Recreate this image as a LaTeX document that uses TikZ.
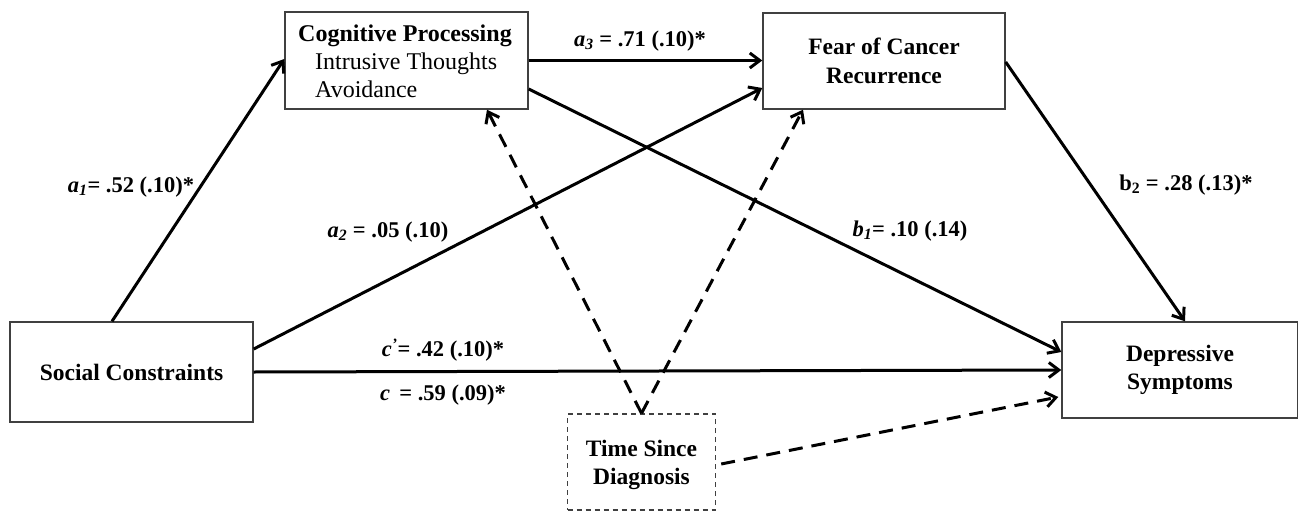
\documentclass[tikz,border=0pt]{standalone}
\usepackage{fontspec}
\setmainfont{Liberation Serif}
\usetikzlibrary{arrows.meta}
\tikzset{
  box/.style={draw=black!75, line width=1.4pt, rectangle, inner sep=0pt, align=center,
    font=\fontsize{23.5}{28.5}\selectfont\bfseries},
  dbox/.style={box, dashed, dash pattern=on 5pt off 4pt},
  path/.style={line width=3pt, -{Straight Barb[length=10pt,width=15pt,line width=3pt]}},
  dpath/.style={path, dash pattern=on 14pt off 9pt},
  lab/.style={font=\fontsize{22.5}{25}\selectfont\bfseries, inner sep=0pt}
}
\newcommand{\ital}[1]{\textit{#1}}
\begin{document}
\begin{tikzpicture}[x=1pt,y=-1pt]
\useasboundingbox (0,0) rectangle (1298,511);
\node[box, minimum width=243pt, minimum height=97pt] (cog) at (406.5,60.5) {};
\node[anchor=north west, inner sep=0pt, align=left, font=\fontsize{24}{28}\selectfont] (cogtxt) at (298,25)
  {\textbf{Cognitive Processing}\\\hspace*{17pt}Intrusive Thoughts\\\hspace*{17pt}Avoidance};
\node[box, minimum width=242pt, minimum height=96pt] (fear) at (884,61) {Fear of Cancer\\Recurrence};
\node[box, minimum width=243pt, minimum height=100pt] (soc) at (131.5,372) {Social Constraints};
\node[box, minimum width=236pt, minimum height=96pt] (dep) at (1180,370) {Depressive\\Symptoms};
\node[dbox, minimum width=148pt, minimum height=96pt] (time) at (641.5,462) {};
\node[align=center, inner sep=0pt, font=\fontsize{23.5}{28.5}\selectfont\bfseries] (timetxt) at (641.5,465) {Time Since\\Diagnosis};

\draw[path] ([xshift=-19.5pt]soc.north) -- ([yshift=1.5pt]cog.west);
\draw[path] (cog.east) -- (cog.east -| fear.west);
\draw[path] ([yshift=23pt]soc.east) -- ([yshift=-27pt]fear.west);
\draw[path] ([yshift=-28.5pt]cog.east) -- ([yshift=18pt]dep.west);
\draw[path] ([yshift=-1pt]fear.east) -- ([xshift=5pt]dep.north);
\draw[path] (soc.east) -- (dep.west);
\draw[dpath] (time.north) -- ([xshift=80.5pt]cog.south);
\draw[dpath] (time.north) -- ([xshift=-81pt]fear.south);
\draw[dpath] ([xshift=5pt,yshift=-2pt]time.east) -- ([xshift=-3pt,yshift=-27pt]dep.west);

\node[lab] (la1) at (131,187) {\ital{a}\textsubscript{\ital{1}}= .52 (.10)*};
\node[lab] (la3) at (640,41) {\ital{a}\textsubscript{\ital{3}} = .71 (.10)*};
\node[lab] (la2) at (388,232) {\ital{a}\textsubscript{\ital{2}} = .05 (.10)};
\node[lab] (lb1) at (910,231) {\ital{b}\textsubscript{\ital{1}}= .10 (.14)};
\node[lab] (lb2) at (1186,185) {b\textsubscript{2} = .28 (.13)*};
\node[lab] (lcp) at (443,350) {\ital{c}\textsuperscript{\ital{'}}= .42 (.10)*};
\node[lab] (lc) at (443,395) {\ital{c} \,= .59 (.09)*};
\end{tikzpicture}
\end{document}
